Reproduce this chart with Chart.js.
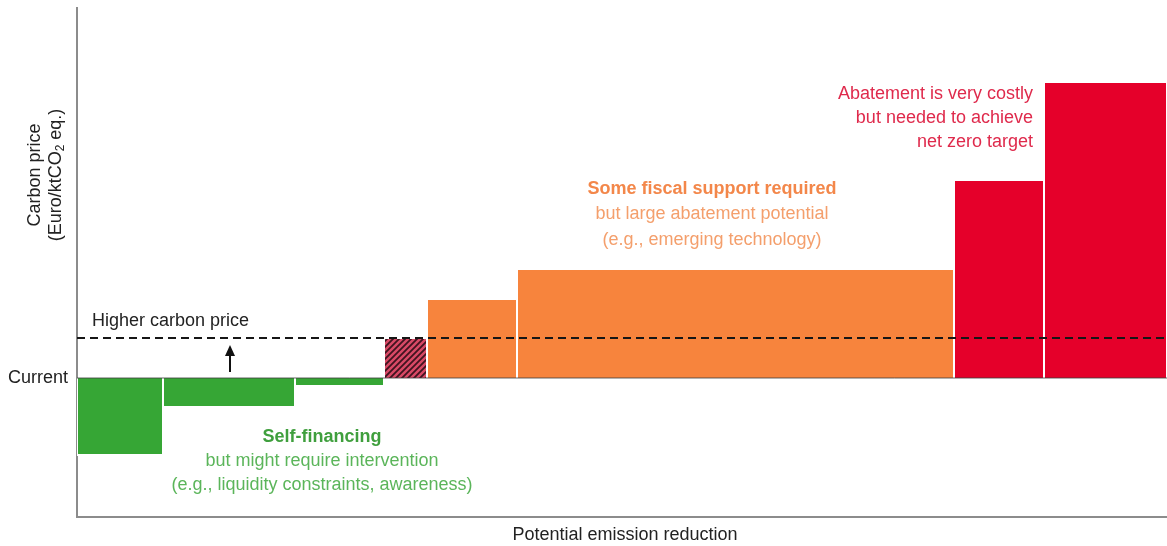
<!DOCTYPE html>
<html>
<head>
<meta charset="utf-8">
<script src="https://cdn.jsdelivr.net/npm/chart.js@4.4.1/dist/chart.umd.min.js"></script>
<style>
  html, body { margin: 0; padding: 0; background: #fff; }
  #macc { display: block; }
</style>
</head>
<body>
<canvas id="macc" width="1167" height="546"></canvas>
<script>
// abatement measures, left to right along the curve
const measures = ['Efficiency 1', 'Efficiency 2', 'Efficiency 3', 'Break-even', 'Emerging 1', 'Emerging 2', 'Net zero 1', 'Net zero 2'];
const groups = ['self', 'self', 'self', 'threshold', 'fiscal', 'fiscal', 'netzero', 'netzero'];
// potential emission reduction of each measure (width of the block)
const reductions = [8.6, 13.2, 8.9, 4.3, 9.0, 43.7, 9.0, 12.3];
// abatement cost of each measure relative to the current carbon price
const costs = [-7.7, -2.9, -0.8, 4.0, 7.9, 10.9, 19.8, 29.6];
const currentPrice = 0;
const higherPrice = 4.0;

const FONT = '"Liberation Sans", Arial, sans-serif';
const groupColors = { self: '#36a635', fiscal: '#f7843d', netzero: '#e5002a' };

// diagonal hatching for the block that becomes viable at the higher price
function hatch() {
  const c = document.createElement('canvas');
  c.width = 6; c.height = 6;
  const g = c.getContext('2d');
  g.fillStyle = '#d94a66';
  g.fillRect(0, 0, 6, 6);
  g.strokeStyle = '#40141f';
  g.lineWidth = 1.8;
  g.beginPath();
  g.moveTo(0, 6); g.lineTo(6, 0);
  g.moveTo(-1, 1); g.lineTo(1, -1);
  g.moveTo(5, 7); g.lineTo(7, 5);
  g.stroke();
  return g.createPattern(c, 'repeat');
}

const totalReduction = reductions.reduce((a, b) => a + b, 0);

// one filled step per measure
let start = 0;
const blocks = measures.map((name, i) => {
  const x0 = start, x1 = start + reductions[i];
  start = x1;
  return {
    label: name,
    data: [{ x: x0, y: 0 }, { x: x0, y: costs[i] }, { x: x1, y: costs[i] }, { x: x1, y: 0 }],
    backgroundColor: groups[i] === 'threshold' ? hatch() : groupColors[groups[i]],
    borderColor: '#ffffff',
    borderWidth: 2,
    pointRadius: 0,
    fill: 'origin',
    tension: 0,
    order: 1
  };
});

const priceLines = [
  {
    label: 'Current',
    data: [{ x: 0, y: currentPrice }, { x: totalReduction, y: currentPrice }],
    borderColor: 'rgba(60,60,60,0.8)',
    borderWidth: 1,
    pointRadius: 0,
    fill: false,
    order: 0
  },
  {
    label: 'Higher carbon price',
    data: [{ x: 0, y: higherPrice }, { x: totalReduction, y: higherPrice }],
    borderColor: '#161616',
    borderWidth: 2,
    borderDash: [8, 5],
    pointRadius: 0,
    fill: false,
    order: 0
  }
];

function textLines(ctx, lines, x, y, step, align) {
  ctx.textAlign = align;
  lines.forEach((l, i) => {
    ctx.font = l.font;
    ctx.fillStyle = l.color;
    ctx.fillText(l.text, x, y + i * step);
  });
}

const annotations = {
  id: 'annotations',
  afterDraw(chart) {
    const { ctx, chartArea, scales } = chart;
    const X = v => scales.x.getPixelForValue(v);
    const Y = v => scales.y.getPixelForValue(v);
    ctx.save();
    ctx.textBaseline = 'middle';

    // price labels
    ctx.fillStyle = '#222';
    ctx.font = '18px ' + FONT;
    ctx.textAlign = 'right';
    ctx.fillText('Current', chartArea.left - 9, Y(currentPrice));
    ctx.textAlign = 'left';
    ctx.fillText('Higher carbon price', chartArea.left + 15, Y(higherPrice) - 17);

    // arrow from current to higher price
    const ax = X(15.3);
    ctx.strokeStyle = '#111';
    ctx.fillStyle = '#111';
    ctx.lineWidth = 2;
    ctx.beginPath();
    ctx.moveTo(ax, Y(currentPrice) - 6);
    ctx.lineTo(ax, Y(higherPrice) + 14);
    ctx.stroke();
    ctx.beginPath();
    ctx.moveTo(ax, Y(higherPrice) + 7);
    ctx.lineTo(ax - 5, Y(higherPrice) + 18);
    ctx.lineTo(ax + 5, Y(higherPrice) + 18);
    ctx.closePath();
    ctx.fill();

    // group notes
    textLines(ctx, [
      { text: 'Self-financing', font: 'bold 18px ' + FONT, color: '#3f9f3d' },
      { text: 'but might require intervention', font: '18px ' + FONT, color: '#5bb55a' },
      { text: '(e.g., liquidity constraints, awareness)', font: '18px ' + FONT, color: '#5bb55a' }
    ], X(24.5), Y(-5.9), 24, 'center');

    textLines(ctx, [
      { text: 'Some fiscal support required', font: 'bold 18px ' + FONT, color: '#f3874a' },
      { text: 'but large abatement potential', font: '18px ' + FONT, color: '#f49f6c' },
      { text: '(e.g., emerging technology)', font: '18px ' + FONT, color: '#f49f6c' }
    ], X(63.5), Y(18.9), 25.5, 'center');

    textLines(ctx, [
      { text: 'Abatement is very costly', font: '18px ' + FONT, color: '#df2a4c' },
      { text: 'but needed to achieve', font: '18px ' + FONT, color: '#df2a4c' },
      { text: 'net zero target', font: '18px ' + FONT, color: '#df2a4c' }
    ], X(95.6), Y(28.4), 24, 'right');

    // x axis title
    ctx.fillStyle = '#222';
    ctx.textAlign = 'center';
    ctx.font = '18px ' + FONT;
    ctx.fillText('Potential emission reduction', (chartArea.left + chartArea.right) / 2 + 3, chartArea.bottom + 18);

    // y axis title, rotated, with subscript 2
    ctx.translate(chartArea.left - 42, chartArea.top + 167);
    ctx.rotate(-Math.PI / 2);
    ctx.textAlign = 'center';
    ctx.fillText('Carbon price', 0, 0);
    const a = '(Euro/ktCO', b = '2', c = ' eq.)';
    const wa = ctx.measureText(a).width, wc = ctx.measureText(c).width;
    ctx.font = '12px ' + FONT;
    const wb = ctx.measureText(b).width;
    const w = wa + wb + wc;
    ctx.textAlign = 'left';
    ctx.font = '18px ' + FONT;
    ctx.fillText(a, -w / 2, 21);
    ctx.fillText(c, -w / 2 + wa + wb, 21);
    ctx.font = '12px ' + FONT;
    ctx.fillText(b, -w / 2 + wa, 26);
    ctx.restore();
  }
};

// axes carry no ticks, so they take no room beside the plot
const noRoom = scale => {
  if (scale.isHorizontal()) scale.height = 0; else scale.width = 0;
};

new Chart(document.getElementById('macc'), {
  type: 'line',
  data: { datasets: [...priceLines, ...blocks] },
  options: {
    responsive: false,
    animation: false,
    layout: { padding: { left: 77, top: 8, right: 0, bottom: 29 } },
    plugins: { legend: { display: false }, tooltip: { enabled: false } },
    scales: {
      x: {
        type: 'linear',
        min: 0,
        max: totalReduction,
        z: 1,
        afterFit: noRoom,
        grid: { display: false },
        ticks: { display: false },
        border: { display: true, color: '#8c8c8c', width: 2 }
      },
      y: {
        type: 'linear',
        min: -13.9,
        max: 37.0,
        z: 1,
        afterFit: noRoom,
        grid: { display: false },
        ticks: { display: false },
        border: { display: true, color: '#8c8c8c', width: 2 }
      }
    }
  },
  plugins: [annotations]
});
</script>
</body>
</html>
